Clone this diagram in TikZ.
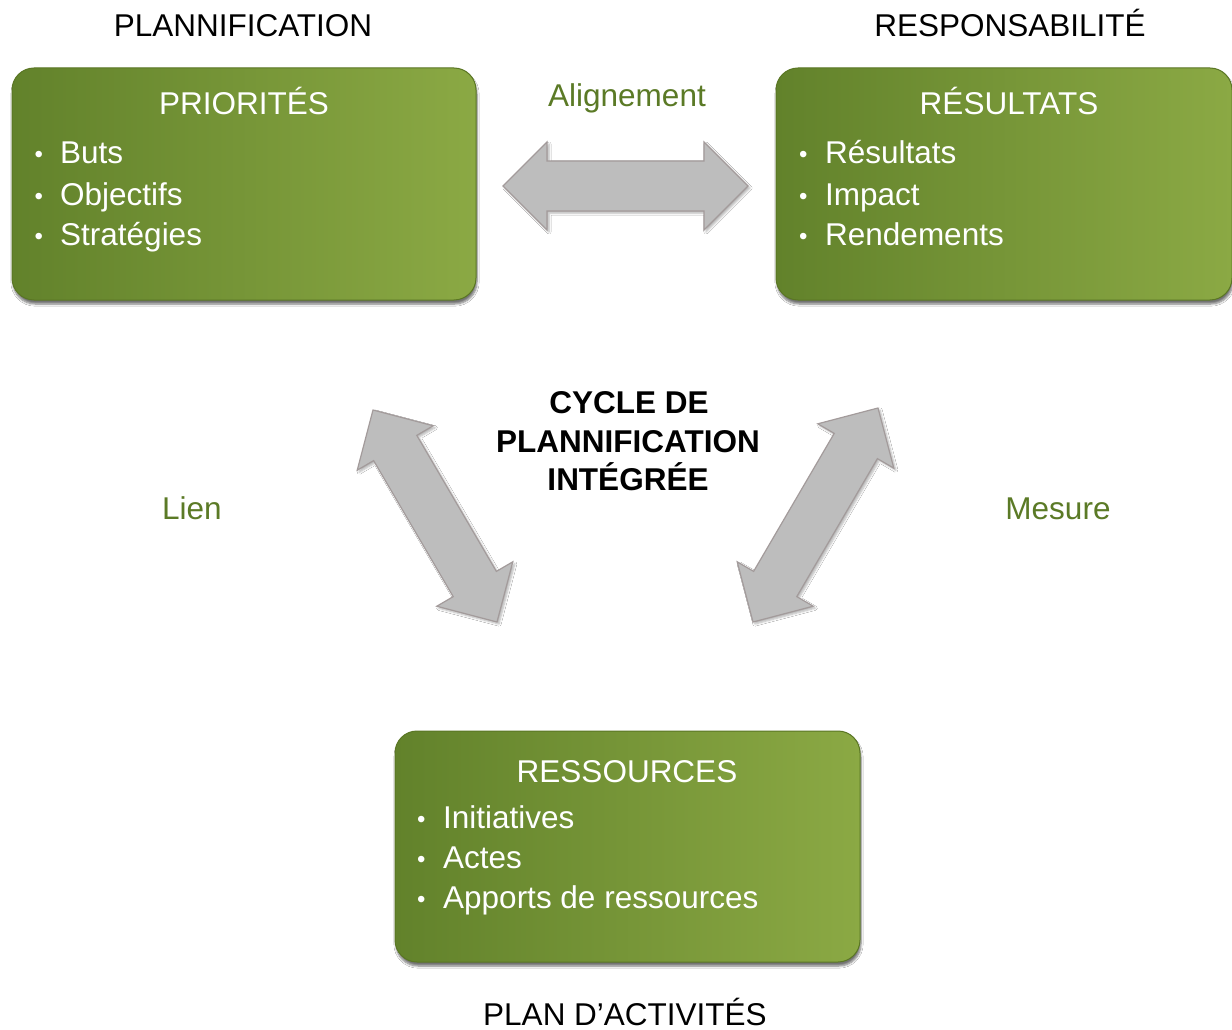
\documentclass[tikz,border=0pt]{standalone}
\usepackage{fontspec}
\setmainfont{Liberation Sans}
\usetikzlibrary{calc,shadows.blur}
\definecolor{boxdark}{HTML}{62822B}
\definecolor{boxlight}{HTML}{8BA944}
\definecolor{boxedge}{HTML}{5A7624}
\definecolor{lblgreen}{HTML}{5B7A26}
\definecolor{arrfill}{HTML}{BDBDBD}
\definecolor{arredge}{HTML}{A39B9B}
\newcommand\blockarrow[2]{%
  \filldraw[blockarr] (#1)
    -- ($(#1)!44pt!(#2)!44pt!90:(#2)$)
    -- ($(#1)!44pt!(#2)!25pt!90:(#2)$)
    -- ($(#2)!44pt!(#1)!25pt!-90:(#1)$)
    -- ($(#2)!44pt!(#1)!44pt!-90:(#1)$)
    -- (#2)
    -- ($(#2)!44pt!(#1)!44pt!90:(#1)$)
    -- ($(#2)!44pt!(#1)!25pt!90:(#1)$)
    -- ($(#1)!44pt!(#2)!25pt!-90:(#2)$)
    -- ($(#1)!44pt!(#2)!44pt!-90:(#2)$)
    -- cycle;}
\newcommand\bul{\makebox[0pt][l]{\hspace*{2pt}\raisebox{1pt}{\fontsize{24}{24}\selectfont •}}}
\begin{document}
\begin{tikzpicture}[x=1pt,y=-1pt,
  greenbox/.style={rounded corners=22pt, left color=boxdark, right color=boxlight,
    draw=boxedge, line width=1pt, inner sep=0pt,
    blur shadow={shadow xshift=1pt, shadow yshift=-4pt, shadow blur steps=6, shadow opacity=55}},
  blockarr/.style={fill=arrfill, draw=arredge, line width=1.2pt, line join=miter,
    blur shadow={shadow xshift=2pt, shadow yshift=-2pt, shadow blur steps=5, shadow opacity=30}},
  txt/.style={font=\fontsize{31.5}{37.5}\selectfont, inner sep=0pt, anchor=base},
  intxt/.style={txt, text=white},
  itemtxt/.style={txt, text=white, anchor=base west},
  lbl/.style={txt, text=lblgreen},
  head/.style={txt, text=black},
  center/.style={txt, text=black, font=\bfseries\fontsize{31.5}{37.5}\selectfont}
]
\fill[white] (0,0) rectangle (1232,1030);
\useasboundingbox (0,0) rectangle (1232,1030);

% boxes
\node[greenbox, minimum width=464pt, minimum height=232pt] (prio) at (244,184) {};
\node[greenbox, minimum width=456pt, minimum height=232pt] (resu) at (1004,184) {};
\node[greenbox, minimum width=465pt, minimum height=231pt] (ress) at (627.5,846.5) {};

% headings outside
\node[head] (hplan) at (243,37) {PLANNIFICATION};
\node[head] (hresp) at (1010,37) {RESPONSABILITÉ};
\node[head] (hact) at (625,1025) {PLAN D’ACTIVITÉS};

% box contents
\node[intxt] (prioT) at (244,115) {PRIORITÉS};
\node[itemtxt] (prio1) at (32.5,164) {\makebox[27.5pt][l]{\bul}Buts};
\node[itemtxt] (prio2) at (32.5,205) {\makebox[27.5pt][l]{\bul}Objectifs};
\node[itemtxt] (prio3) at (32.5,245) {\makebox[27.5pt][l]{\bul}Stratégies};

\node[intxt] (resuT) at (1009,115) {RÉSULTATS};
\node[itemtxt] (resu1) at (797,164) {\makebox[28pt][l]{\bul}Résultats};
\node[itemtxt] (resu2) at (797,205) {\makebox[28pt][l]{\bul}Impact};
\node[itemtxt] (resu3) at (797,245) {\makebox[28pt][l]{\bul}Rendements};

\node[intxt] (ressT) at (627,782) {RESSOURCES};
\node[itemtxt] (ress1) at (415,828) {\makebox[28pt][l]{\bul}Initiatives};
\node[itemtxt] (ress2) at (415,868) {\makebox[28pt][l]{\bul}Actes};
\node[itemtxt] (ress3) at (415,908) {\makebox[28pt][l]{\bul}Apports de ressources};

% centre title
\node[center] (c1) at (629,413) {CYCLE DE};
\node[center] (c2) at (628,452) {PLANNIFICATION};
\node[center] (c3) at (628,490) {INTÉGRÉE};

% arrow labels
\node[lbl] (lalign) at (627,107) {Alignement};
\node[lbl] (llien) at (192,519) {Lien};
\node[lbl] (lmes) at (1058,519) {Mesure};

% block arrows
\coordinate (hA) at (503,186);
\coordinate (hB) at (748,186);
\coordinate (lA) at (373,410);
\coordinate (lB) at (497,622);
\coordinate (rA) at (878,408);
\coordinate (rB) at (753,622);
\blockarrow{hA}{hB}
\blockarrow{lA}{lB}
\blockarrow{rA}{rB}
\end{tikzpicture}
\end{document}
